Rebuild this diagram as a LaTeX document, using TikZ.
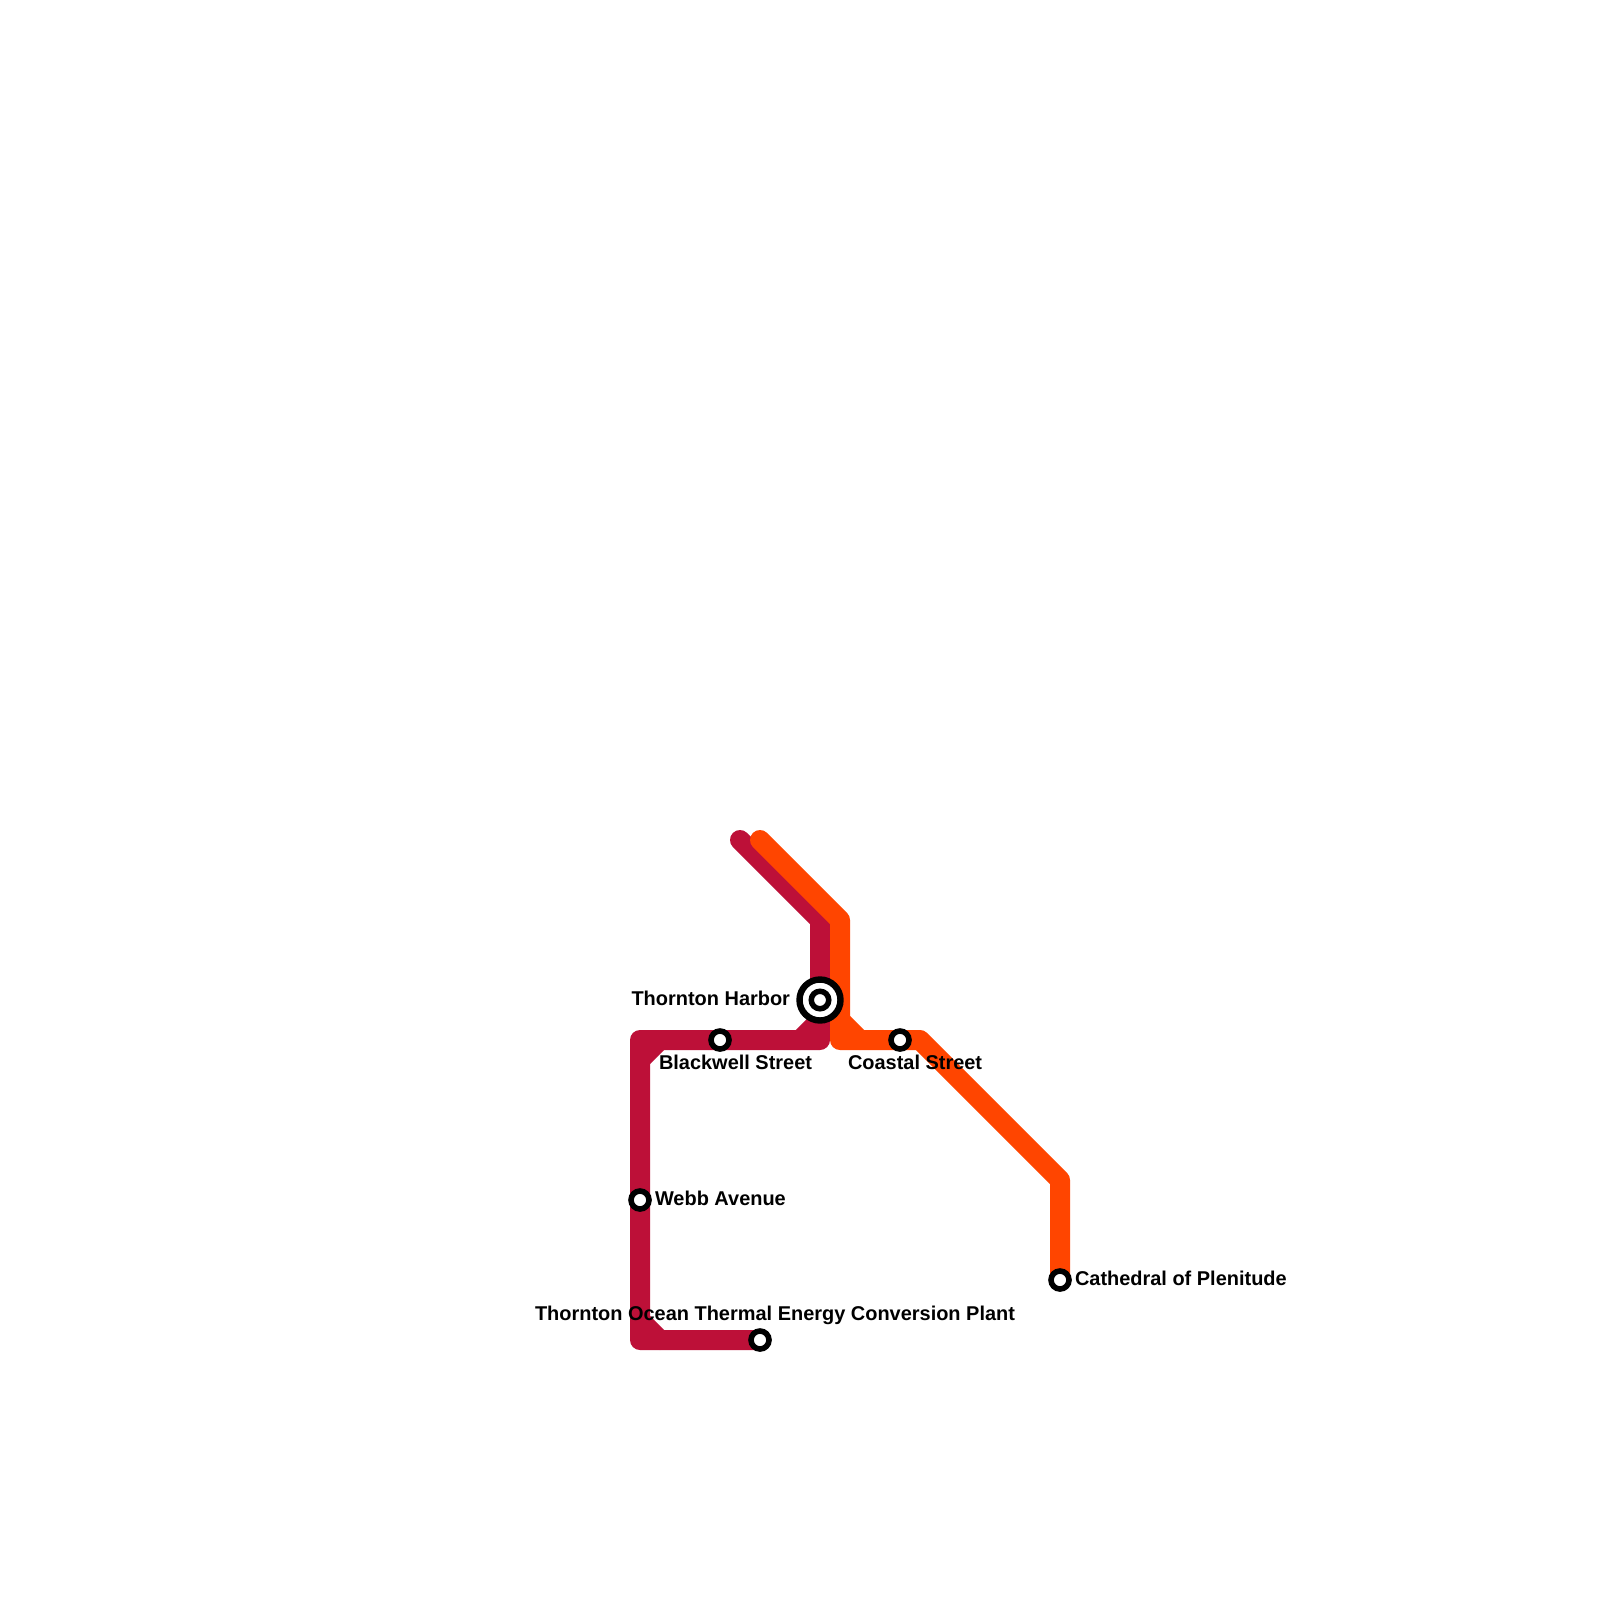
\documentclass[tikz,border=0pt]{standalone}
\usepackage{fontspec}
\setmainfont{Liberation Sans}
\definecolor{crimsonline}{HTML}{BD1038}
\definecolor{orangeline}{HTML}{FF4500}
\tikzset{
  route/.style={line width=20pt,line join=round,line cap=round},
  crimsonroute/.style={route,draw=crimsonline},
  orangeroute/.style={route,draw=orangeline},
  stop/.style={circle,draw=black,fill=white,line width=5.6pt,minimum size=18pt,inner sep=0pt,outer sep=0pt},
  hubouter/.style={circle,draw=black,fill=white,line width=6.4pt,minimum size=41pt,inner sep=0pt,outer sep=0pt},
  hubinner/.style={circle,draw=black,fill=white,line width=5.5pt,minimum size=17.5pt,inner sep=0pt,outer sep=0pt},
  stoplabel/.style={inner sep=0pt,outer sep=0pt,font=\bfseries\fontsize{19.95pt}{22pt}\selectfont,text=black}
}
\begin{document}
\begin{tikzpicture}[x=1pt,y=-1pt]
\useasboundingbox[fill=white] (0,0) rectangle (1600,1600);
% crimson vertices
\coordinate (c0) at (740,840);
\coordinate (c1) at (820,920);
\coordinate (c2) at (820,1040);
\coordinate (c3) at (640,1040);
\coordinate (c4) at (640,1340);
\coordinate (cb1a) at (820,1020);
\coordinate (cb1b) at (800,1040);
\coordinate (cb2a) at (640,1060);
\coordinate (cb2b) at (660,1040);
\coordinate (cb3a) at (640,1320);
\coordinate (cb3b) at (660,1340);
% orange vertices
\coordinate (o0) at (760,840);
\coordinate (o1) at (840,920);
\coordinate (o2) at (840,1040);
\coordinate (o3) at (920,1040);
\coordinate (o4) at (1060,1180);
\coordinate (ob1a) at (840,1020);
\coordinate (ob1b) at (860,1040);
% stations
\coordinate (pharbor) at (820,1000);
\coordinate (pblack) at (720,1040);
\coordinate (pcoast) at (900,1040);
\coordinate (pwebb) at (640,1200);
\coordinate (pocean) at (760,1340);
\coordinate (pcath) at (1060,1280);
% lines
\draw[crimsonroute] (c0) -- (c1) -- (c2) -- (c3) -- (c4) -- (pocean);
\draw[crimsonroute] (cb1a) -- (cb1b);
\draw[crimsonroute] (cb2a) -- (cb2b);
\draw[crimsonroute] (cb3a) -- (cb3b);
\draw[orangeroute] (o0) -- (o1) -- (o2) -- (o3) -- (o4) -- (pcath);
\draw[orangeroute] (ob1a) -- (ob1b);
% station markers
\node[hubouter] (harborouter) at (pharbor) {};
\node[hubinner] (harborinner) at (pharbor) {};
\node[stop] (blackwell) at (pblack) {};
\node[stop] (coastal) at (pcoast) {};
\node[stop] (webb) at (pwebb) {};
\node[stop] (ocean) at (pocean) {};
\node[stop] (cathedral) at (pcath) {};
% labels
\node[stoplabel,anchor=base east] (lharbor) at (790,1005.2) {Thornton Harbor};
\node[stoplabel,anchor=base west] (lblack) at (659,1069.7) {Blackwell Street};
\node[stoplabel,anchor=base west] (lcoast) at (848,1069.7) {Coastal Street};
\node[stoplabel,anchor=base west] (lwebb) at (655,1205.2) {Webb Avenue};
\node[stoplabel,anchor=base west] (locean) at (535,1320.2) {Thornton Ocean Thermal Energy Conversion Plant};
\node[stoplabel,anchor=base west] (lcath) at (1075,1285.2) {Cathedral of Plenitude};
\end{tikzpicture}
\end{document}
